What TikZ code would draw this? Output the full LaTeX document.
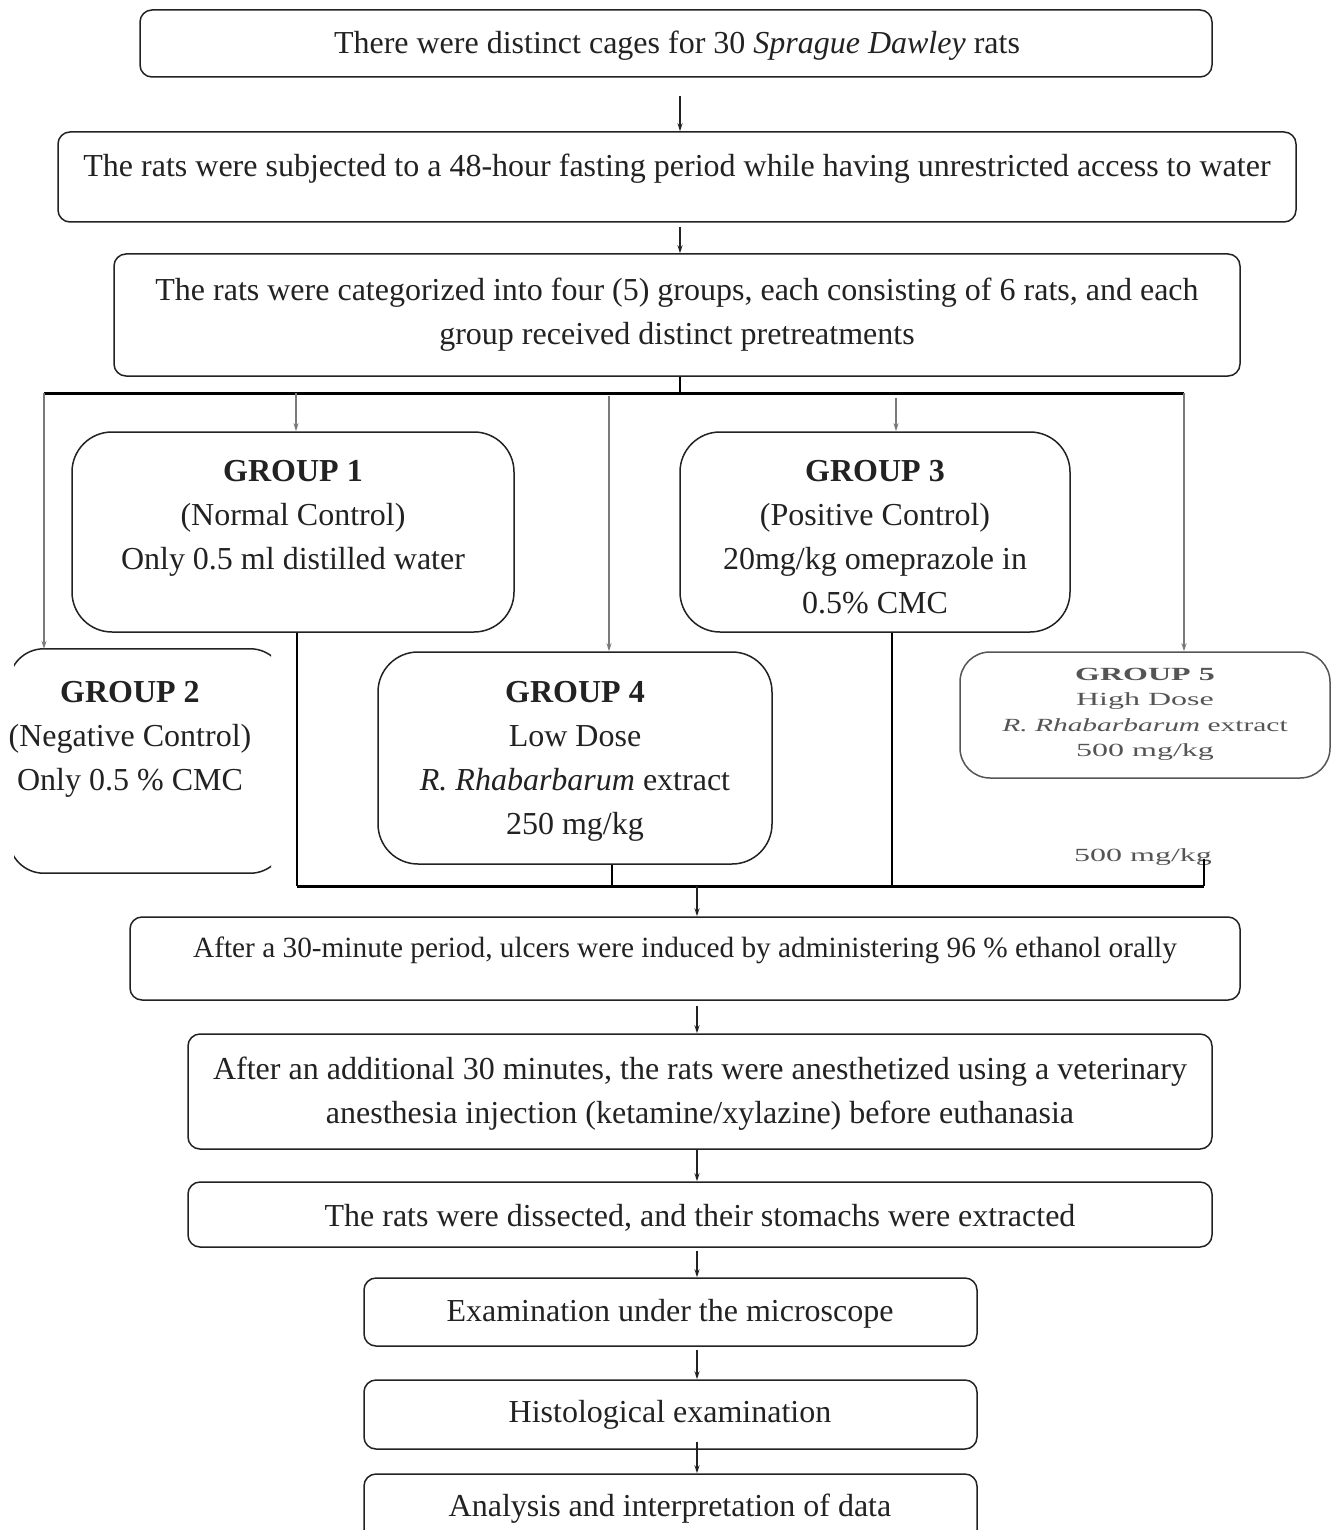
\documentclass[tikz,border=0pt]{standalone}
\usepackage{fontspec}
\setmainfont{Liberation Serif}
\usetikzlibrary{arrows.meta}
\definecolor{ln}{HTML}{222222}
\definecolor{gl}{HTML}{7A7A7A}
\definecolor{g5}{HTML}{555555}
\begin{document}
\begin{tikzpicture}[x=1pt,y=-1pt,
 box/.style={draw=ln, line width=1.5pt, rounded corners=12pt, inner sep=0pt},
 gbox/.style={draw=ln, line width=1.5pt, rounded corners=40pt, inner sep=0pt},
 txt/.style={font=\fontsize{32}{44}\selectfont, align=center, text=ln, inner sep=0pt, yshift=-3.5pt},
 arr/.style={draw=ln, line width=1.2pt, -{Stealth[length=8pt,width=5pt]}},
 drop/.style={draw=gl, line width=1.6pt, -{Stealth[length=8pt,width=5pt]}},
 vl/.style={draw=black, line width=1.6pt},
 bus/.style={draw=black, line width=3pt},
 ]
\clip (0,0) rectangle (1332,1530);
\fill[white] (0,0) rectangle (1332,1530);
\coordinate (xc1) at (680,0);
\coordinate (xc2) at (697,0);

% top boxes
\node[box, minimum width=1072, minimum height=67] (A) at (676,43.5) {};
\node[txt] (At) at (677,42) {There were distinct cages for 30 \textit{Sprague Dawley} rats};
\node[box, minimum width=1238, minimum height=90] (B) at (677,177) {};
\node[txt] (Bt) at (677,165) {The rats were subjected to a 48-hour fasting period while having unrestricted access to water};
\node[box, minimum width=1126, minimum height=122] (C) at (677,315) {};
\node[txt] (Ct) at (677,311) {The rats were categorized into four (5) groups, each consisting of 6 rats, and each\\group received distinct pretreatments};

% groups
\node[gbox, minimum width=442, minimum height=200] (G1) at (293,532) {};
\node[txt] (G1t) at (293,514.5) {\textbf{GROUP 1}\\(Normal Control)\\Only 0.5 ml distilled water};
\node[gbox, minimum width=390, minimum height=200] (G3) at (875,532) {};
\node[txt] (G3t) at (875,534) {\textbf{GROUP 3}\\(Positive Control)\\20mg/kg omeprazole in\\0.5\% CMC};
\node[gbox, minimum width=394, minimum height=212] (G4) at (575,758) {};
\node[txt] (G4t) at (575,757.5) {\textbf{GROUP 4}\\Low Dose\\\textit{R. Rhabarbarum} extract\\250 mg/kg};
\node[inner sep=0pt, minimum width=276, minimum height=224] (G2) at (147,761) {};
\begin{scope}
\clip (14,640) rectangle (271,885);
\draw[ln, line width=1.5pt, rounded corners=35pt] (G2.north west) rectangle (G2.south east);
\end{scope}
\node[txt] (G2t) at (130,736) {\textbf{GROUP 2}\\(Negative Control)\\Only 0.5 \% CMC};
\node[draw=g5, line width=1.5pt, rounded corners=30pt, minimum width=370, minimum height=126, inner sep=0pt] (G5) at (1145,715) {};
\node[inner sep=0pt, text=g5] (G5t) at (1145,713.5) {\scalebox{1}[0.58]{\fontsize{32}{44}\selectfont\begin{tabular}{@{}c@{}}\textbf{GROUP 5}\\High Dose\\\scalebox{0.92}[1]{\textit{R. Rhabarbarum} extract}\\500 mg/kg\end{tabular}}};
\node[inner sep=0pt, text=g5] (extra) at (1143,857) {\scalebox{1}[0.58]{\fontsize{32}{44}\selectfont 500 mg/kg}};

% top bus
\coordinate (tb) at (680,393);
\coordinate (busL) at (44,393);
\coordinate (busR) at (1184,393);
\coordinate (d1) at (296,393);
\coordinate (d4) at (609,396);
\coordinate (d3) at (896,398);
\draw[vl] (C.south -| xc1) -- (tb);
\draw[bus] (busL) -- (busR);
\draw[drop] (busL) -- (busL |- G2.north);
\draw[drop] (d1) -- (d1 |- G1.north);
\draw[drop] (d4) -- (d4 |- G4.north);
\draw[drop] (d3) -- (d3 |- G3.north);
\draw[drop] (busR) -- (busR |- G5.north);

% bottom bus
\coordinate (bL) at (297,886);
\coordinate (bR) at (1204,886);
\coordinate (b4) at (612,886);
\coordinate (b3) at (892,886);
\coordinate (bM) at (697,886);
\draw[vl] (bL |- G1.south) -- (bL);
\draw[vl] (b4 |- G4.south) -- (b4);
\draw[vl] (b3 |- G3.south) -- (b3);
\draw[vl] ([yshift=7pt]bR |- extra.south) -- (bR);
\draw[bus] (bL) -- (bR);

% lower boxes
\node[box, minimum width=1110, minimum height=83] (D) at (685,958.5) {};
\node[txt, font=\fontsize{29.3}{40}\selectfont] (Dt) at (685,947) {After a 30-minute period, ulcers were induced by administering 96 \% ethanol orally};
\node[box, minimum width=1024, minimum height=115] (E) at (700,1091.5) {};
\node[txt] (Et) at (700,1090) {After an additional 30 minutes, the rats were anesthetized using a veterinary\\anesthesia injection (ketamine/xylazine) before euthanasia};
\node[box, minimum width=1024, minimum height=65] (F) at (700,1214.5) {};
\node[txt] (Ft) at (700,1214) {The rats were dissected, and their stomachs were extracted};
\node[box, minimum width=613, minimum height=68] (G) at (670.5,1312) {};
\node[txt] (Gt) at (670,1310) {Examination under the microscope};
\node[box, minimum width=613, minimum height=69] (H) at (670.5,1414.5) {};
\node[txt] (Ht) at (670,1411) {Histological examination};
\node[box, minimum width=613, minimum height=86] (I) at (670.5,1517) {};
\node[txt] (It) at (670,1505) {Analysis and interpretation of data};

% connectors
\draw[arr, shorten <=18pt] (A.south -| xc1) -- (B.north -| xc1);
\draw[arr, shorten <=4pt] (B.south -| xc1) -- (C.north -| xc1);
\draw[arr] (bM) -- (bM |- D.north);
\draw[arr, shorten <=5pt] (D.south -| xc2) -- (E.north -| xc2);
\draw[arr] (E.south -| xc2) -- (F.north -| xc2);
\draw[arr, shorten <=3pt] (F.south -| xc2) -- (G.north -| xc2);
\draw[arr, shorten <=3pt] (G.south -| xc2) -- (H.north -| xc2);
\draw[arr, shorten <=-8pt] (H.south -| xc2) -- (I.north -| xc2);
\end{tikzpicture}
\end{document}
